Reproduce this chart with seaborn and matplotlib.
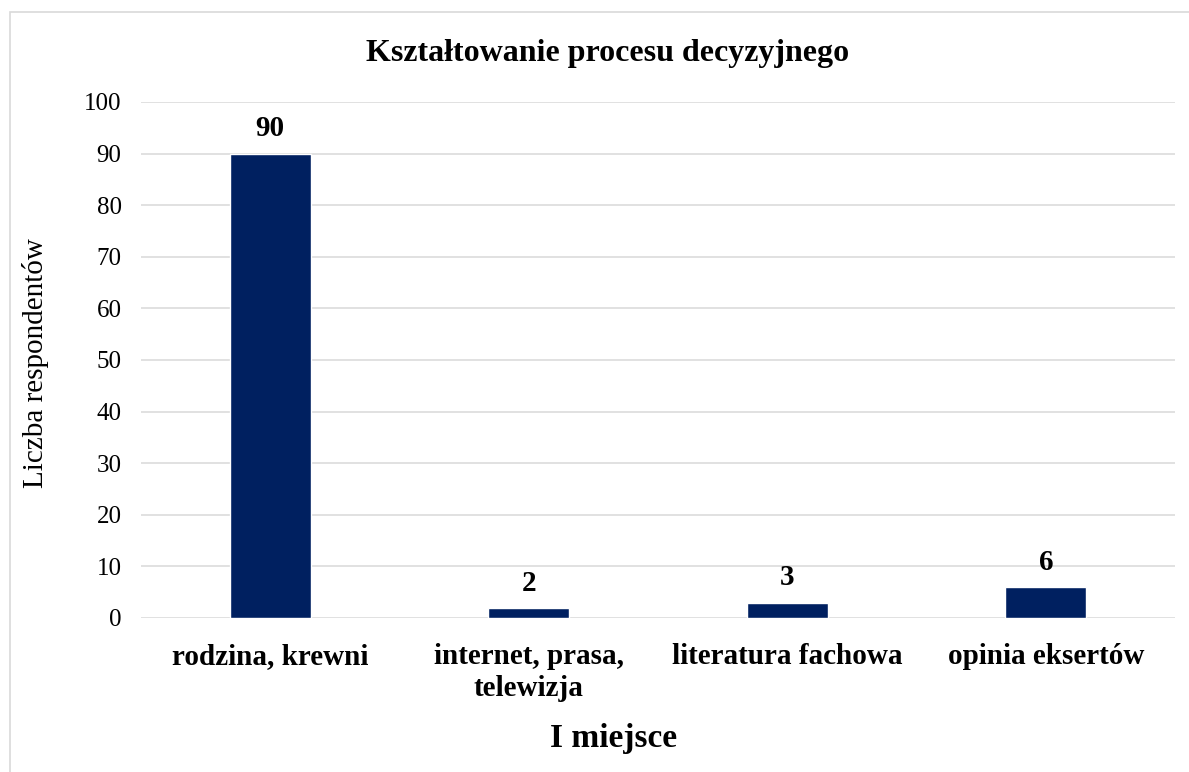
import matplotlib
matplotlib.use("Agg")
import matplotlib.pyplot as plt
import seaborn as sns
import pandas as pd
from matplotlib.patches import Rectangle

categories = ["rodzina, krewni", "internet, prasa,\ntelewizja", "literatura fachowa", "opinia eksertów"]
values = [90, 2, 3, 6]
y_ticks = [0, 10, 20, 30, 40, 50, 60, 70, 80, 90, 100]

title = "Kształtowanie procesu decyzyjnego"
x_label = "I miejsce"
y_label = "Liczba respondentów"

df = pd.DataFrame({"kategoria": categories, "liczba": values})

sns.set_theme(style="white")
plt.rcParams["font.family"] = ["Liberation Serif", "DejaVu Serif"]
plt.rcParams["text.color"] = "black"
plt.rcParams["xtick.color"] = "black"
plt.rcParams["ytick.color"] = "black"

W, H = 1189, 772
fig = plt.figure(figsize=(W / 100, H / 100), dpi=100)
ax = fig.add_axes([141 / W, 1 - 618 / H, (1175 - 141) / W, (618 - 102) / H])

sns.barplot(data=df, x="kategoria", y="liczba", color="#002060", width=0.313,
            saturation=1, ax=ax, zorder=3)

ax.set_ylim(0, 100)
ax.set_yticks(y_ticks)
ax.set_xlim(-0.5, len(categories) - 0.5)
ax.yaxis.grid(True, color="#D9D9D9", linewidth=1.1, zorder=0)
ax.set_axisbelow(True)
for s in ax.spines.values():
    s.set_visible(False)
ax.tick_params(axis="both", length=0)
ax.tick_params(axis="y", labelsize=18, pad=14)
ax.tick_params(axis="x", labelsize=21, pad=18)
for lbl in ax.get_xticklabels():
    lbl.set_fontweight("bold")
    lbl.set_linespacing(1.25)
    lbl.set_verticalalignment("top")

for bar, v in zip(ax.patches, values):
    ax.annotate(str(v), (bar.get_x() + bar.get_width() / 2, bar.get_height()),
                xytext=(0, 8), textcoords="offset points", ha="center", va="bottom",
                fontsize=21, fontweight="bold")

ax.set_xlabel("")
ax.set_ylabel("")
fig.text(614 / W, 1 - 738 / H, x_label, ha="center", va="center",
         fontsize=24, fontweight="bold")
fig.text(36 / W, 1 - 363 / H, y_label, ha="center", va="center",
         rotation=90, fontsize=21)
fig.text(608 / W, 1 - 54 / H, title, ha="center", va="center",
         fontsize=23, fontweight="bold")

# light frame around the chart area
fig.patches.append(Rectangle((10 / W, -0.1), 1.2, (H - 12) / H + 0.1,
                             transform=fig.transFigure, fill=False,
                             edgecolor="#D9D9D9", linewidth=1.2))

fig.savefig("out.png", dpi=100, facecolor="white")
